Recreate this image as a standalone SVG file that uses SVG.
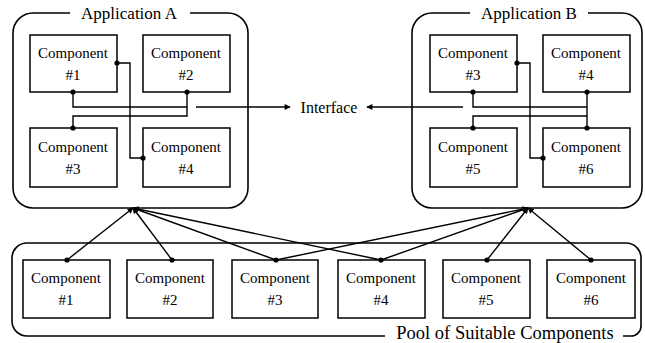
<svg xmlns="http://www.w3.org/2000/svg" width="645" height="343" viewBox="0 0 645 343">
<style>
  .frame{fill:none;stroke:#000;stroke-width:1.6}
  .box{fill:#fff;stroke:#000;stroke-width:1.5}
  .wire{fill:none;stroke:#000;stroke-width:1.4}
  .lbl{font-family:"Liberation Serif","DejaVu Serif",serif;font-size:15px;fill:#000;text-anchor:middle}
  .title{font-family:"Liberation Serif","DejaVu Serif",serif;fill:#000;text-anchor:middle}
  .dot{fill:#000}
</style>
<defs>
  <marker id="arr" viewBox="0 0 10 10" refX="9" refY="5" markerWidth="7" markerHeight="6" orient="auto" markerUnits="userSpaceOnUse">
    <path d="M0,0 L10,5 L0,10 z" fill="#000"/>
  </marker>
</defs>
<rect width="645" height="343" fill="#fff"/>

<g id="appA">
  <path class="frame" d="M190,13 H228 A20,20 0 0 1 248,33 V188 A20,20 0 0 1 228,208 H33 A20,20 0 0 1 13,188 V33 A20,20 0 0 1 33,13 H70"/>
  <text class="title" x="129" y="19" font-size="17">Application A</text>
</g>
<g id="appB">
  <path class="frame" d="M588,13 H622 A20,20 0 0 1 642,33 V188 A20,20 0 0 1 622,208 H432 A20,20 0 0 1 412,188 V33 A20,20 0 0 1 432,13 H470"/>
  <text class="title" x="529" y="19" font-size="17">Application B</text>
</g>
<g id="pool">
  <path class="frame" d="M385,336 H27 A15,15 0 0 1 12,321 V258 A15,15 0 0 1 27,243 H626 A15,15 0 0 1 641,258 V326 A10,10 0 0 1 631,336 H623"/>
  <text class="title" x="505" y="339" font-size="18.5">Pool of Suitable Components</text>
</g>

<g id="a1"><rect class="box" x="30" y="35" width="87" height="57"/><text class="lbl" x="73" y="58">Component</text><text class="lbl" x="73" y="80">#1</text></g>
<g id="a2"><rect class="box" x="143" y="35" width="87" height="57"/><text class="lbl" x="186" y="58">Component</text><text class="lbl" x="186" y="80">#2</text></g>
<g id="a3"><rect class="box" x="30" y="128" width="87" height="59"/><text class="lbl" x="73" y="152">Component</text><text class="lbl" x="73" y="174">#3</text></g>
<g id="a4"><rect class="box" x="143" y="128" width="87" height="59"/><text class="lbl" x="186" y="152">Component</text><text class="lbl" x="186" y="174">#4</text></g>

<g id="b3"><rect class="box" x="430" y="35" width="87" height="57"/><text class="lbl" x="473" y="58">Component</text><text class="lbl" x="473" y="80">#3</text></g>
<g id="b4"><rect class="box" x="543" y="35" width="87" height="57"/><text class="lbl" x="586" y="58">Component</text><text class="lbl" x="586" y="80">#4</text></g>
<g id="b5"><rect class="box" x="430" y="128" width="87" height="59"/><text class="lbl" x="473" y="152">Component</text><text class="lbl" x="473" y="174">#5</text></g>
<g id="b6"><rect class="box" x="543" y="128" width="87" height="59"/><text class="lbl" x="586" y="152">Component</text><text class="lbl" x="586" y="174">#6</text></g>

<g id="p1"><rect class="box" x="23" y="260" width="87" height="58"/><text class="lbl" x="66" y="283">Component</text><text class="lbl" x="66" y="305">#1</text></g>
<g id="p2"><rect class="box" x="127" y="260" width="86" height="58"/><text class="lbl" x="170" y="283">Component</text><text class="lbl" x="170" y="305">#2</text></g>
<g id="p3"><rect class="box" x="232" y="260" width="86" height="58"/><text class="lbl" x="275" y="283">Component</text><text class="lbl" x="275" y="305">#3</text></g>
<g id="p4"><rect class="box" x="338" y="260" width="87" height="58"/><text class="lbl" x="381" y="283">Component</text><text class="lbl" x="381" y="305">#4</text></g>
<g id="p5"><rect class="box" x="443" y="260" width="87" height="58"/><text class="lbl" x="486" y="283">Component</text><text class="lbl" x="486" y="305">#5</text></g>
<g id="p6"><rect class="box" x="547" y="260" width="88" height="58"/><text class="lbl" x="591" y="283">Component</text><text class="lbl" x="591" y="305">#6</text></g>

<g id="interface"><text class="title" x="329" y="113" font-size="16">Interface</text></g>

<g id="connectors">
  <path class="wire" d="M73,92 V107 H187"/>
  <path class="wire" d="M187,92 V116 H73 V128"/>
  <path class="wire" d="M117,63 H130 V158 H143"/>
  <path class="wire" d="M196,107 H290" marker-end="url(#arr)"/>
  <path class="wire" d="M473,92 V107 H587"/>
  <path class="wire" d="M587,92 V128"/>
  <path class="wire" d="M587,116 H473 V128"/>
  <path class="wire" d="M517,63 H530 V158 H543"/>
  <path class="wire" d="M463,107 H367" marker-end="url(#arr)"/>

  <path class="wire" d="M67,260 L133,208" marker-end="url(#arr)"/>
  <path class="wire" d="M172,260 L133,208" marker-end="url(#arr)"/>
  <path class="wire" d="M276,260 L133,208" marker-end="url(#arr)"/>
  <path class="wire" d="M381,260 L133,208" marker-end="url(#arr)"/>
  <path class="wire" d="M276,260 L528,208" marker-end="url(#arr)"/>
  <path class="wire" d="M381,260 L528,208" marker-end="url(#arr)"/>
  <path class="wire" d="M487,260 L528,208" marker-end="url(#arr)"/>
  <path class="wire" d="M591,260 L528,208" marker-end="url(#arr)"/>

  <g class="dot">
    <circle cx="73" cy="92" r="2.6"/><circle cx="187" cy="92" r="2.6"/><circle cx="73" cy="128" r="2.6"/>
    <circle cx="117" cy="63" r="2.6"/><circle cx="143" cy="158" r="2.6"/>
    <circle cx="473" cy="92" r="2.6"/><circle cx="587" cy="92" r="2.6"/><circle cx="473" cy="128" r="2.6"/>
    <circle cx="587" cy="128" r="2.6"/><circle cx="517" cy="63" r="2.6"/><circle cx="543" cy="158" r="2.6"/>
    <circle cx="67" cy="260" r="2.6"/><circle cx="172" cy="260" r="2.6"/><circle cx="276" cy="260" r="2.6"/>
    <circle cx="381" cy="260" r="2.6"/><circle cx="487" cy="260" r="2.6"/><circle cx="591" cy="260" r="2.6"/>
  </g>
</g>
</svg>
